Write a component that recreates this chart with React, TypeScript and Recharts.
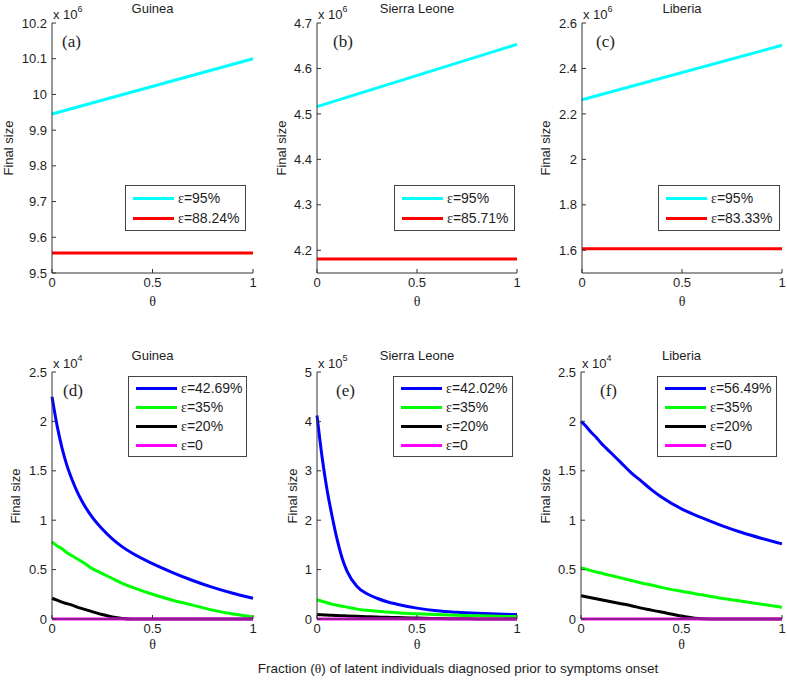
import React from 'react';
import { LineChart, Line, XAxis, YAxis } from 'recharts';

// θ – Anteil der vor Symptombeginn diagnostizierten latent Infizierten
const thetaTop = [0, 1];
const thetaBottom = [0, 0.025, 0.05, 0.075, 0.1, 0.125, 0.15, 0.2, 0.25, 0.3, 0.35, 0.4, 0.5, 0.6, 0.7, 0.8, 0.9, 1];

// obere Reihe, Final size in 10^6
const guineaEps95 = [9.945, 10.1];
const guineaEps8824 = [9.556, 9.556];
const sierraEps95 = [4.516, 4.653];
const sierraEps8571 = [4.181, 4.181];
const liberiaEps95 = [2.262, 2.502];
const liberiaEps8333 = [1.607, 1.607];

// untere Reihe: Guinea (10^4), Sierra Leone (10^5), Liberia (10^4)
const guineaEps4269 = [2.25, 1.96, 1.73, 1.55, 1.41, 1.29, 1.19, 1.03, 0.91, 0.81, 0.73, 0.665, 0.56, 0.47, 0.39, 0.32, 0.26, 0.21];
const guineaEps35 = [0.78, 0.74, 0.71, 0.67, 0.64, 0.61, 0.58, 0.51, 0.46, 0.41, 0.36, 0.32, 0.25, 0.19, 0.14, 0.09, 0.05, 0.02];
const guineaEps20 = [0.21, 0.19, 0.17, 0.155, 0.14, 0.12, 0.105, 0.075, 0.045, 0.02, 0.005, 0, 0, 0, 0, 0, 0, 0];
const guineaEps0 = [0, 0, 0, 0, 0, 0, 0, 0, 0, 0, 0, 0, 0, 0, 0, 0, 0, 0];
const sierraEps4202 = [4.12, 3.29, 2.62, 2.09, 1.62, 1.24, 0.97, 0.66, 0.51, 0.42, 0.35, 0.3, 0.22, 0.165, 0.135, 0.115, 0.1, 0.09];
const sierraEps35 = [0.39, 0.36, 0.33, 0.3, 0.28, 0.26, 0.24, 0.2, 0.175, 0.155, 0.14, 0.125, 0.105, 0.09, 0.075, 0.065, 0.057, 0.05];
const sierraEps20 = [0.09, 0.085, 0.08, 0.075, 0.07, 0.066, 0.062, 0.055, 0.047, 0.04, 0.034, 0.028, 0.018, 0.01, 0.005, 0.002, 0, 0];
const sierraEps0 = [0, 0, 0, 0, 0, 0, 0, 0, 0, 0, 0, 0, 0, 0, 0, 0, 0, 0];
const liberiaEps5649 = [2.0, 1.95, 1.89, 1.84, 1.78, 1.73, 1.68, 1.58, 1.48, 1.395, 1.31, 1.235, 1.115, 1.025, 0.945, 0.875, 0.815, 0.76];
const liberiaEps35 = [0.52, 0.505, 0.49, 0.475, 0.465, 0.45, 0.44, 0.415, 0.39, 0.365, 0.345, 0.32, 0.28, 0.245, 0.21, 0.18, 0.15, 0.12];
const liberiaEps20 = [0.235, 0.225, 0.215, 0.205, 0.195, 0.185, 0.175, 0.155, 0.135, 0.11, 0.09, 0.07, 0.03, 0.003, 0, 0, 0, 0];
const liberiaEps0 = [0, 0, 0, 0, 0, 0, 0, 0, 0, 0, 0, 0, 0, 0, 0, 0, 0, 0];

// Achsen-Ticks
const xTicks = [0, 0.5, 1];
const ticksA = [9.5, 9.6, 9.7, 9.8, 9.9, 10, 10.1, 10.2];
const ticksB = [4.2, 4.3, 4.4, 4.5, 4.6, 4.7];
const ticksC = [1.6, 1.8, 2, 2.2, 2.4, 2.6];
const ticksDF = [0, 0.5, 1, 1.5, 2, 2.5];
const ticksE = [0, 1, 2, 3, 4, 5];

const titles = ['Guinea', 'Sierra Leone', 'Liberia'];
const letters = ['(a)', '(b)', '(c)', '(d)', '(e)', '(f)'];

const CYAN = '#00ffff', RED = '#ff0000', BLUE = '#0000ff', GREEN = '#00ff00', BLACK = '#000000', MAGENTA = '#ff00ff';
const AXIS = '#333333';
const TXT = '#1e1e1e';
const SANS = '"Liberation Sans", Arial, Helvetica, sans-serif';
const SERIF = '"Liberation Serif", "Times New Roman", serif';

type Series = { name: string; color: string; values: number[] };
type PanelCfg = {
  title: string; letter: string; exp: number; theta: number[]; series: Series[];
  domain: [number, number]; ticks: number[];
  plot: { x: number; y: number; w: number; h: number };
  legend: { x: number; y: number; w: number; h: number; row: number };
  letterX: number; ylabelX: number; titleDy: number; thetaDy: number;
};

const panels: PanelCfg[] = [
  {
    title: titles[0], letter: letters[0], exp: 6, theta: thetaTop,
    series: [{ name: 'ε=95%', color: CYAN, values: guineaEps95 }, { name: 'ε=88.24%', color: RED, values: guineaEps8824 }],
    domain: [9.5, 10.2], ticks: ticksA, plot: { x: 52, y: 23, w: 201, h: 250 },
    legend: { x: 125, y: 185, w: 121, h: 46, row: 20 }, letterX: 62, ylabelX: 8, titleDy: -15, thetaDy: 29,
  },
  {
    title: titles[1], letter: letters[1], exp: 6, theta: thetaTop,
    series: [{ name: 'ε=95%', color: CYAN, values: sierraEps95 }, { name: 'ε=85.71%', color: RED, values: sierraEps8571 }],
    domain: [4.15, 4.7], ticks: ticksB, plot: { x: 317, y: 23, w: 200, h: 250 },
    legend: { x: 394, y: 185, w: 121, h: 46, row: 20 }, letterX: 333, ylabelX: 281, titleDy: -15, thetaDy: 29,
  },
  {
    title: titles[2], letter: letters[2], exp: 6, theta: thetaTop,
    series: [{ name: 'ε=95%', color: CYAN, values: liberiaEps95 }, { name: 'ε=83.33%', color: RED, values: liberiaEps8333 }],
    domain: [1.5, 2.6], ticks: ticksC, plot: { x: 582, y: 23, w: 200, h: 250 },
    legend: { x: 658, y: 185, w: 122, h: 46, row: 20 }, letterX: 596, ylabelX: 545, titleDy: -15, thetaDy: 29,
  },
  {
    title: titles[0], letter: letters[3], exp: 4, theta: thetaBottom,
    series: [
      { name: 'ε=42.69%', color: BLUE, values: guineaEps4269 }, { name: 'ε=35%', color: GREEN, values: guineaEps35 },
      { name: 'ε=20%', color: BLACK, values: guineaEps20 }, { name: 'ε=0', color: MAGENTA, values: guineaEps0 },
    ],
    domain: [0, 2.5], ticks: ticksDF, plot: { x: 52, y: 372, w: 201, h: 247 },
    legend: { x: 128, y: 376, w: 119, h: 81, row: 19 }, letterX: 63, ylabelX: 15, titleDy: -17, thetaDy: 26,
  },
  {
    title: titles[1], letter: letters[4], exp: 5, theta: thetaBottom,
    series: [
      { name: 'ε=42.02%', color: BLUE, values: sierraEps4202 }, { name: 'ε=35%', color: GREEN, values: sierraEps35 },
      { name: 'ε=20%', color: BLACK, values: sierraEps20 }, { name: 'ε=0', color: MAGENTA, values: sierraEps0 },
    ],
    domain: [0, 5], ticks: ticksE, plot: { x: 317, y: 372, w: 200, h: 247 },
    legend: { x: 393, y: 376, w: 120, h: 81, row: 19 }, letterX: 336, ylabelX: 292, titleDy: -17, thetaDy: 26,
  },
  {
    title: titles[2], letter: letters[5], exp: 4, theta: thetaBottom,
    series: [
      { name: 'ε=56.49%', color: BLUE, values: liberiaEps5649 }, { name: 'ε=35%', color: GREEN, values: liberiaEps35 },
      { name: 'ε=20%', color: BLACK, values: liberiaEps20 }, { name: 'ε=0', color: MAGENTA, values: liberiaEps0 },
    ],
    domain: [0, 2.5], ticks: ticksDF, plot: { x: 581, y: 372, w: 201, h: 247 },
    legend: { x: 657, y: 376, w: 120, h: 81, row: 19 }, letterX: 600, ylabelX: 545, titleDy: -17, thetaDy: 26,
  },
];

const fmt = (v: number) => String(Number(v.toFixed(2)));

const Eps = ({ text }: { text: string }) => (
  <span>
    <span style={{ fontFamily: SERIF }}>{text.charAt(0)}</span>
    {text.slice(1)}
  </span>
);

function Panel({ p }: { p: PanelCfg }) {
  const { plot, legend } = p;
  const padL = 52, padT = 10, padR = 8, padB = 34;
  const rows = p.theta.map((t, i) => {
    const r: Record<string, number> = { theta: t };
    p.series.forEach((s, j) => { r['s' + j] = s.values[i]; });
    return r;
  });
  const cx = plot.x + plot.w / 2;
  return (
    <>
      <div style={{ position: 'absolute', left: plot.x - padL, top: plot.y - padT }}>
        <LineChart width={plot.w + padL + padR} height={plot.h + padT + padB} data={rows}
          margin={{ top: padT, right: padR, bottom: 0, left: 0 }}>
          <XAxis xAxisId="b" dataKey="theta" type="number" domain={[0, 1]} ticks={xTicks} tickFormatter={fmt}
            height={padB} tickSize={-4} tickMargin={9} stroke={AXIS} interval={0}
            tick={{ fill: TXT, fontSize: 13, fontFamily: SANS }} />
          <XAxis xAxisId="t" orientation="top" dataKey="theta" type="number" domain={[0, 1]} ticks={xTicks}
            height={0} tick={false} tickSize={-4} stroke={AXIS} allowDataOverflow />
          <YAxis yAxisId="l" type="number" domain={p.domain} ticks={p.ticks} tickFormatter={fmt} width={padL}
            tickSize={-4} tickMargin={9} stroke={AXIS} interval={0}
            tick={{ fill: TXT, fontSize: 13, fontFamily: SANS }} />
          <YAxis yAxisId="r" orientation="right" type="number" domain={p.domain} ticks={p.ticks} width={0}
            tick={false} tickSize={-4} stroke={AXIS} allowDataOverflow interval={0} />
          {p.series.map((s, j) => (
            <Line key={j} xAxisId="b" yAxisId="l" dataKey={'s' + j} type="monotone" stroke={s.color}
              strokeWidth={3} dot={false} isAnimationActive={false} />
          ))}
        </LineChart>
      </div>
      {/* Titel */}
      <div style={{ position: 'absolute', left: cx, top: plot.y + p.titleDy, transform: 'translate(-50%,-50%)',
        fontFamily: SANS, fontSize: 13, color: TXT, whiteSpace: 'nowrap' }}>{p.title}</div>
      {/* Exponent */}
      <div style={{ position: 'absolute', left: plot.x + 1, top: plot.y - 19, fontFamily: SANS, fontSize: 13,
        color: TXT, whiteSpace: 'nowrap', lineHeight: '14px' }}>
        x 10<sup style={{ fontSize: 9, position: 'relative', top: -2 }}>{p.exp}</sup>
      </div>
      {/* Buchstabe */}
      <div style={{ position: 'absolute', left: p.letterX, top: plot.y + 19, transform: 'translateY(-50%)',
        fontFamily: SERIF, fontSize: 17, color: TXT }}>{p.letter}</div>
      {/* y-Label */}
      <div style={{ position: 'absolute', left: p.ylabelX, top: plot.y + plot.h / 2,
        transform: 'translate(-50%,-50%) rotate(-90deg)', fontFamily: SANS, fontSize: 13, color: TXT,
        whiteSpace: 'nowrap' }}>Final size</div>
      {/* x-Label */}
      <div style={{ position: 'absolute', left: cx, top: plot.y + plot.h + p.thetaDy, transform: 'translate(-50%,-50%)',
        fontFamily: SERIF, fontSize: 14, color: TXT }}>θ</div>
      {/* Legende */}
      <div style={{ position: 'absolute', left: legend.x, top: legend.y, width: legend.w, height: legend.h,
        boxSizing: 'border-box', border: '1px solid #444', background: '#fff',
        paddingTop: (legend.h - legend.row * p.series.length) / 2 - 1 }}>
        {p.series.map((s, j) => (
          <div key={j} style={{ display: 'flex', alignItems: 'center', height: legend.row }}>
            <span style={{ display: 'inline-block', width: 41, height: 3, background: s.color, marginLeft: 7, marginRight: 4 }} />
            <span style={{ fontFamily: SANS, fontSize: 14, color: TXT, whiteSpace: 'nowrap' }}><Eps text={s.name} /></span>
          </div>
        ))}
      </div>
    </>
  );
}

export default function App() {
  return (
    <div style={{ position: 'absolute', left: 0, top: 0, width: 787, height: 682, background: '#fff', overflow: 'hidden' }}>
      {panels.map((p, i) => <Panel key={i} p={p} />)}
      <div style={{ position: 'absolute', left: 458, top: 669, transform: 'translate(-50%,-50%)', fontFamily: SANS,
        fontSize: 13.5, color: TXT, whiteSpace: 'nowrap' }}>
        Fraction (<span style={{ fontFamily: SERIF }}>θ</span>) of latent individuals diagnosed prior to symptoms onset
      </div>
    </div>
  );
}
